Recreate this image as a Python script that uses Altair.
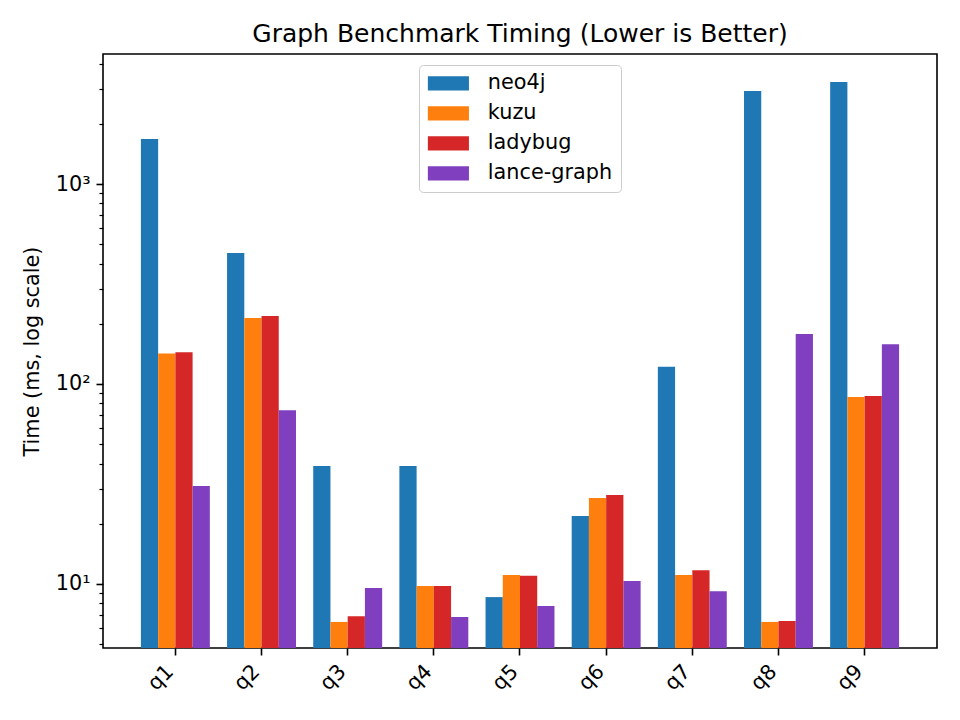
import altair as alt
import pandas as pd

queries = ["q1", "q2", "q3", "q4", "q5", "q6", "q7", "q8", "q9"]
engines = ["neo4j", "kuzu", "ladybug", "lance-graph"]
colors = ["#1f77b4", "#ff7f0e", "#d62728", "#7f3fbf"]

neo4j = [1680, 452, 38.9, 38.9, 8.6, 21.9, 122, 2920, 3240]
kuzu = [142, 214, 6.46, 9.77, 11.1, 26.9, 11.1, 6.46, 86]
ladybug = [144, 219, 6.9, 9.77, 11.0, 27.9, 11.7, 6.53, 87]
lance_graph = [30.9, 74, 9.55, 6.84, 7.76, 10.35, 9.2, 178, 158]

major_ticks = [10, 100, 1000]
minor_ticks = [5, 6, 7, 8, 9, 20, 30, 40, 50, 60, 70, 80, 90,
               200, 300, 400, 500, 600, 700, 800, 900, 2000, 3000, 4000]
y_domain = [4.786, 4467]

series = {"neo4j": neo4j, "kuzu": kuzu, "ladybug": ladybug, "lance-graph": lance_graph}
rows = []
for eng in engines:
    for q, v in zip(queries, series[eng]):
        rows.append({"query": q, "engine": eng, "time": v})
df = pd.DataFrame(rows)

FONT = "DejaVu Sans"

label_expr = ("datum.value == 10 ? '10\u00b9' : datum.value == 100 ? '10\u00b2' : "
              "datum.value == 1000 ? '10\u00b3' : ''")
major_test = "datum.value == 10 || datum.value == 100 || datum.value == 1000"

sym_path = "M-2.87,-1L2.87,-1L2.87,1L-2.87,1Z"

chart = alt.Chart(df).mark_bar().encode(
    x=alt.X("query:N", sort=queries,
            scale=alt.Scale(paddingInner=0.2, paddingOuter=0.44),
            axis=alt.Axis(title=None, labelAngle=-45, labelAlign="right",
                          labelBaseline="top", labelFontSize=20.8, labelFont=FONT,
                          labelColor="black", tickColor="black", tickWidth=1.6,
                          tickSize=7, labelPadding=6, labelOffset=-12, domain=False)),
    xOffset=alt.XOffset("engine:N", sort=engines,
                        scale=alt.Scale(paddingInner=0, paddingOuter=0)),
    y=alt.Y("time:Q",
            scale=alt.Scale(type="log", domain=y_domain, nice=False),
            axis=alt.Axis(title="Time (ms, log scale)", values=major_ticks + minor_ticks,
                          labelExpr=label_expr, labelOverlap=False,
                          labelFontSize=20.8, labelFont=FONT, labelColor="black",
                          labelPadding=6,
                          tickColor="black",
                          tickSize={"condition": {"test": major_test, "value": 7}, "value": 4},
                          tickWidth={"condition": {"test": major_test, "value": 1.6}, "value": 1.2},
                          titleFont=FONT, titleFontSize=20.8, titleFontWeight="normal",
                          titleColor="black", titlePadding=13, grid=False, domain=False)),
    y2=alt.Y2(datum=y_domain[0]),
    color=alt.Color("engine:N", sort=engines,
                    scale=alt.Scale(domain=engines, range=colors),
                    legend=alt.Legend(title=None, orient="none", legendX=316, legendY=11,
                                      labelFontSize=20.8, labelFont=FONT, labelColor="black",
                                      symbolType=sym_path, symbolSize=205,
                                      symbolStrokeWidth=0, symbolOffset=11,
                                      labelOffset=29, rowPadding=8, padding=8,
                                      strokeColor="#cccccc", fillColor="rgba(255,255,255,0.8)",
                                      cornerRadius=4)),
).properties(
    width=834,
    height=594,
    title=alt.TitleParams("Graph Benchmark Timing (Lower is Better)", fontSize=25,
                          font=FONT, fontWeight="normal", color="black",
                          anchor="middle", offset=6),
    autosize="none",
    padding={"left": 95, "top": 46, "right": 15, "bottom": 64},
).configure_view(
    stroke="black", strokeWidth=1.6
)

chart.save("out.html", embed_options={"renderer": "svg", "actions": False})
